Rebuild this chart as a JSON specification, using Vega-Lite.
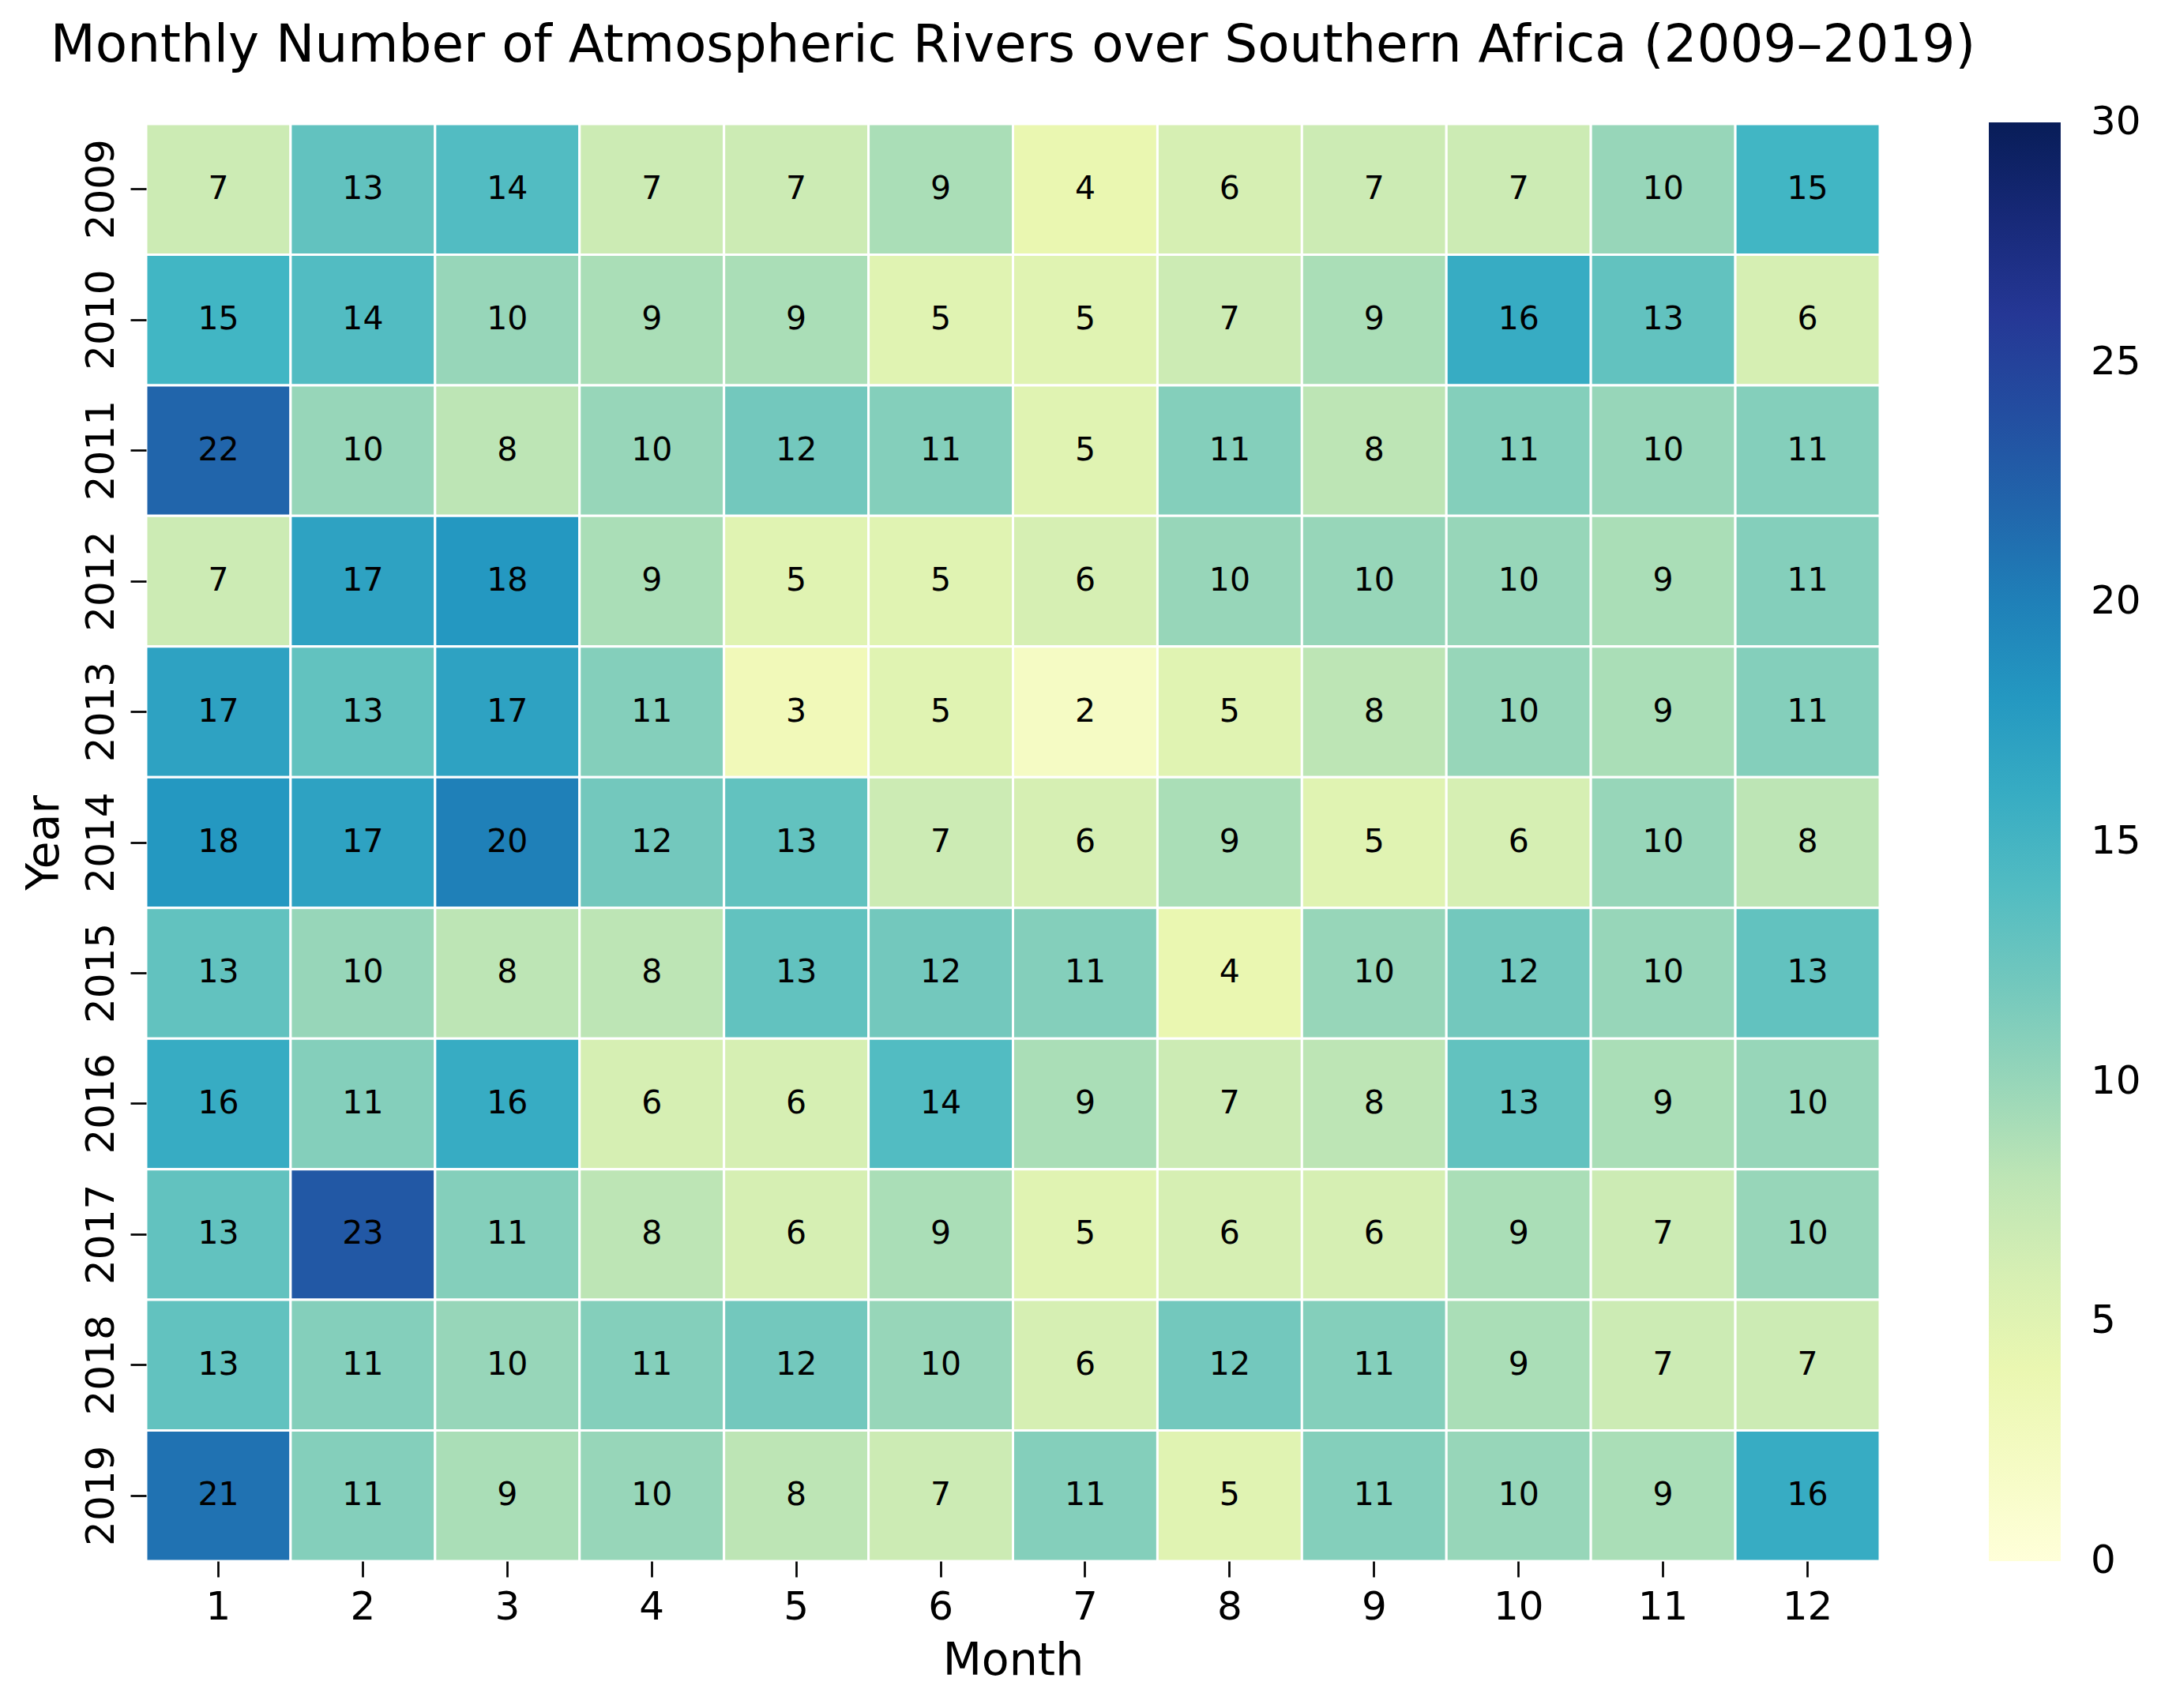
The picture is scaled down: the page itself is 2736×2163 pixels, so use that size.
{
  "$schema": "https://vega.github.io/schema/vega-lite/v6.json",
  "width": 2195,
  "height": 1820,
  "autosize": {"type": "none"},
  "padding": {"left": 185, "top": 157, "right": 356, "bottom": 186},
  "background": "white",
  "config": {"view": {"stroke": null}, "font": "DejaVu Sans"},
  "title": {
    "text": "Monthly Number of Atmospheric Rivers over Southern Africa (2009–2019)",
    "fontSize": 66,
    "font": "DejaVu Sans",
    "fontWeight": "normal",
    "anchor": "middle",
    "frame": "group",
    "baseline": "alphabetic",
    "offset": 11,
    "color": "black"
  },
  "data": {
    "values": [
      {"Year": 2009, "Month": 1, "Count": 7}, {"Year": 2009, "Month": 2, "Count": 13}, {"Year": 2009, "Month": 3, "Count": 14}, {"Year": 2009, "Month": 4, "Count": 7}, {"Year": 2009, "Month": 5, "Count": 7}, {"Year": 2009, "Month": 6, "Count": 9}, {"Year": 2009, "Month": 7, "Count": 4}, {"Year": 2009, "Month": 8, "Count": 6}, {"Year": 2009, "Month": 9, "Count": 7}, {"Year": 2009, "Month": 10, "Count": 7}, {"Year": 2009, "Month": 11, "Count": 10}, {"Year": 2009, "Month": 12, "Count": 15},
      {"Year": 2010, "Month": 1, "Count": 15}, {"Year": 2010, "Month": 2, "Count": 14}, {"Year": 2010, "Month": 3, "Count": 10}, {"Year": 2010, "Month": 4, "Count": 9}, {"Year": 2010, "Month": 5, "Count": 9}, {"Year": 2010, "Month": 6, "Count": 5}, {"Year": 2010, "Month": 7, "Count": 5}, {"Year": 2010, "Month": 8, "Count": 7}, {"Year": 2010, "Month": 9, "Count": 9}, {"Year": 2010, "Month": 10, "Count": 16}, {"Year": 2010, "Month": 11, "Count": 13}, {"Year": 2010, "Month": 12, "Count": 6},
      {"Year": 2011, "Month": 1, "Count": 22}, {"Year": 2011, "Month": 2, "Count": 10}, {"Year": 2011, "Month": 3, "Count": 8}, {"Year": 2011, "Month": 4, "Count": 10}, {"Year": 2011, "Month": 5, "Count": 12}, {"Year": 2011, "Month": 6, "Count": 11}, {"Year": 2011, "Month": 7, "Count": 5}, {"Year": 2011, "Month": 8, "Count": 11}, {"Year": 2011, "Month": 9, "Count": 8}, {"Year": 2011, "Month": 10, "Count": 11}, {"Year": 2011, "Month": 11, "Count": 10}, {"Year": 2011, "Month": 12, "Count": 11},
      {"Year": 2012, "Month": 1, "Count": 7}, {"Year": 2012, "Month": 2, "Count": 17}, {"Year": 2012, "Month": 3, "Count": 18}, {"Year": 2012, "Month": 4, "Count": 9}, {"Year": 2012, "Month": 5, "Count": 5}, {"Year": 2012, "Month": 6, "Count": 5}, {"Year": 2012, "Month": 7, "Count": 6}, {"Year": 2012, "Month": 8, "Count": 10}, {"Year": 2012, "Month": 9, "Count": 10}, {"Year": 2012, "Month": 10, "Count": 10}, {"Year": 2012, "Month": 11, "Count": 9}, {"Year": 2012, "Month": 12, "Count": 11},
      {"Year": 2013, "Month": 1, "Count": 17}, {"Year": 2013, "Month": 2, "Count": 13}, {"Year": 2013, "Month": 3, "Count": 17}, {"Year": 2013, "Month": 4, "Count": 11}, {"Year": 2013, "Month": 5, "Count": 3}, {"Year": 2013, "Month": 6, "Count": 5}, {"Year": 2013, "Month": 7, "Count": 2}, {"Year": 2013, "Month": 8, "Count": 5}, {"Year": 2013, "Month": 9, "Count": 8}, {"Year": 2013, "Month": 10, "Count": 10}, {"Year": 2013, "Month": 11, "Count": 9}, {"Year": 2013, "Month": 12, "Count": 11},
      {"Year": 2014, "Month": 1, "Count": 18}, {"Year": 2014, "Month": 2, "Count": 17}, {"Year": 2014, "Month": 3, "Count": 20}, {"Year": 2014, "Month": 4, "Count": 12}, {"Year": 2014, "Month": 5, "Count": 13}, {"Year": 2014, "Month": 6, "Count": 7}, {"Year": 2014, "Month": 7, "Count": 6}, {"Year": 2014, "Month": 8, "Count": 9}, {"Year": 2014, "Month": 9, "Count": 5}, {"Year": 2014, "Month": 10, "Count": 6}, {"Year": 2014, "Month": 11, "Count": 10}, {"Year": 2014, "Month": 12, "Count": 8},
      {"Year": 2015, "Month": 1, "Count": 13}, {"Year": 2015, "Month": 2, "Count": 10}, {"Year": 2015, "Month": 3, "Count": 8}, {"Year": 2015, "Month": 4, "Count": 8}, {"Year": 2015, "Month": 5, "Count": 13}, {"Year": 2015, "Month": 6, "Count": 12}, {"Year": 2015, "Month": 7, "Count": 11}, {"Year": 2015, "Month": 8, "Count": 4}, {"Year": 2015, "Month": 9, "Count": 10}, {"Year": 2015, "Month": 10, "Count": 12}, {"Year": 2015, "Month": 11, "Count": 10}, {"Year": 2015, "Month": 12, "Count": 13},
      {"Year": 2016, "Month": 1, "Count": 16}, {"Year": 2016, "Month": 2, "Count": 11}, {"Year": 2016, "Month": 3, "Count": 16}, {"Year": 2016, "Month": 4, "Count": 6}, {"Year": 2016, "Month": 5, "Count": 6}, {"Year": 2016, "Month": 6, "Count": 14}, {"Year": 2016, "Month": 7, "Count": 9}, {"Year": 2016, "Month": 8, "Count": 7}, {"Year": 2016, "Month": 9, "Count": 8}, {"Year": 2016, "Month": 10, "Count": 13}, {"Year": 2016, "Month": 11, "Count": 9}, {"Year": 2016, "Month": 12, "Count": 10},
      {"Year": 2017, "Month": 1, "Count": 13}, {"Year": 2017, "Month": 2, "Count": 23}, {"Year": 2017, "Month": 3, "Count": 11}, {"Year": 2017, "Month": 4, "Count": 8}, {"Year": 2017, "Month": 5, "Count": 6}, {"Year": 2017, "Month": 6, "Count": 9}, {"Year": 2017, "Month": 7, "Count": 5}, {"Year": 2017, "Month": 8, "Count": 6}, {"Year": 2017, "Month": 9, "Count": 6}, {"Year": 2017, "Month": 10, "Count": 9}, {"Year": 2017, "Month": 11, "Count": 7}, {"Year": 2017, "Month": 12, "Count": 10},
      {"Year": 2018, "Month": 1, "Count": 13}, {"Year": 2018, "Month": 2, "Count": 11}, {"Year": 2018, "Month": 3, "Count": 10}, {"Year": 2018, "Month": 4, "Count": 11}, {"Year": 2018, "Month": 5, "Count": 12}, {"Year": 2018, "Month": 6, "Count": 10}, {"Year": 2018, "Month": 7, "Count": 6}, {"Year": 2018, "Month": 8, "Count": 12}, {"Year": 2018, "Month": 9, "Count": 11}, {"Year": 2018, "Month": 10, "Count": 9}, {"Year": 2018, "Month": 11, "Count": 7}, {"Year": 2018, "Month": 12, "Count": 7},
      {"Year": 2019, "Month": 1, "Count": 21}, {"Year": 2019, "Month": 2, "Count": 11}, {"Year": 2019, "Month": 3, "Count": 9}, {"Year": 2019, "Month": 4, "Count": 10}, {"Year": 2019, "Month": 5, "Count": 8}, {"Year": 2019, "Month": 6, "Count": 7}, {"Year": 2019, "Month": 7, "Count": 11}, {"Year": 2019, "Month": 8, "Count": 5}, {"Year": 2019, "Month": 9, "Count": 11}, {"Year": 2019, "Month": 10, "Count": 10}, {"Year": 2019, "Month": 11, "Count": 9}, {"Year": 2019, "Month": 12, "Count": 16}
    ]
  },
  "encoding": {
    "x": {
      "field": "Month",
      "type": "ordinal",
      "scale": {"paddingInner": 0, "paddingOuter": 0},
      "axis": {
        "title": "Month",
        "titleFontSize": 57,
        "titleFont": "DejaVu Sans",
        "titleFontWeight": "normal",
        "titleColor": "black",
        "titleBaseline": "alphabetic",
        "titleY": 143,
        "labelAngle": 0,
        "labelFontSize": 50,
        "labelFont": "DejaVu Sans",
        "labelColor": "black",
        "labelBaseline": "alphabetic",
        "labelPadding": 53,
        "tickSize": 20,
        "tickWidth": 2.7,
        "tickColor": "black",
        "domain": false,
        "grid": false
      }
    },
    "y": {
      "field": "Year",
      "type": "ordinal",
      "scale": {"paddingInner": 0, "paddingOuter": 0},
      "axis": {
        "title": "Year",
        "titleFontSize": 57,
        "titleFont": "DejaVu Sans",
        "titleFontWeight": "normal",
        "titleColor": "black",
        "titleBaseline": "alphabetic",
        "titleAngle": 270,
        "titleX": -112,
        "labelAngle": 270,
        "labelAlign": "center",
        "labelBaseline": "alphabetic",
        "labelFontSize": 50,
        "labelFont": "DejaVu Sans",
        "labelColor": "black",
        "labelPadding": 22,
        "tickSize": 20,
        "tickWidth": 2.7,
        "tickColor": "black",
        "domain": false,
        "grid": false
      }
    }
  },
  "layer": [
    {
      "mark": {"type": "rect", "stroke": "white", "strokeWidth": 3},
      "encoding": {
        "color": {
          "field": "Count",
          "type": "quantitative",
          "scale": {
            "domain": [0, 3.75, 7.5, 11.25, 15, 18.75, 22.5, 26.25, 30],
            "range": ["#ffffd9", "#edf8b1", "#c7e9b4", "#7fcdbb", "#41b6c4", "#1d91c0", "#225ea8", "#253494", "#081d58"],
            "interpolate": "rgb"
          },
          "legend": {
            "title": null,
            "orient": "none",
            "legendX": 2333,
            "legendY": -2,
            "direction": "vertical",
            "gradientLength": 1822,
            "gradientThickness": 91,
            "gradientStrokeWidth": 0,
            "values": [0, 5, 10, 15, 20, 25, 30],
            "labelFontSize": 50,
            "labelFont": "DejaVu Sans",
            "labelColor": "black",
            "labelOffset": 38,
            "labelBaseline": "middle",
            "labelOverlap": false,
            "encode": {
              "labels": {"update": {"baseline": {"value": "middle"}}}
            }
          }
        }
      }
    },
    {
      "mark": {"type": "text", "fontSize": 41, "font": "DejaVu Sans", "color": "black", "baseline": "middle", "align": "center"},
      "encoding": {"text": {"field": "Count", "type": "quantitative"}}
    }
  ]
}
